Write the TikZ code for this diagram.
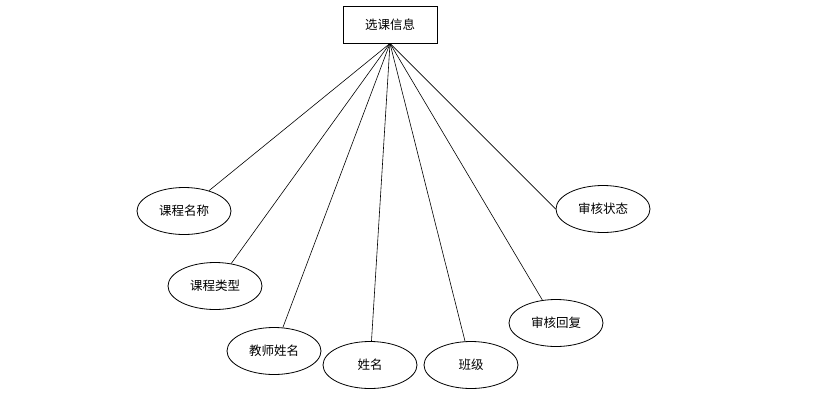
\documentclass[tikz,border=0pt]{standalone}
\usepackage{fontspec}
\usetikzlibrary{shapes.geometric}
\setmainfont{Noto Sans CJK SC}
\begin{document}
\begin{tikzpicture}[x=1pt,y=-1pt,
  attr/.style={draw,ellipse,line width=0.8pt,minimum width=94pt,minimum height=47pt,inner sep=0pt,font=\fontsize{12.5}{15}\selectfont},
  entity/.style={draw,rectangle,line width=0.8pt,minimum width=94pt,minimum height=37pt,inner sep=0pt,font=\fontsize{12.5}{15}\selectfont},
  link/.style={line width=0.6pt}]
\useasboundingbox[fill=white] (0,0) rectangle (815,400);
\node[entity] (main) at (390,24.5) {选课信息};
\coordinate (apex) at (main.south);
\node[attr] (a1) at (184,211) {课程名称};
\node[attr] (a2) at (215,286) {课程类型};
\node[attr] (a3) at (274,351) {教师姓名};
\node[attr] (a4) at (370,365) {姓名};
\node[attr] (a5) at (471,365) {班级};
\node[attr] (a6) at (556,323) {审核回复};
\node[attr] (a7) at (603,209) {审核状态};
\foreach \n in {a1,a2,a3,a4,a5,a6}
  \draw[link] (apex) -- (\n);
\draw[link] (apex) -- (a7.west);
\end{tikzpicture}
\end{document}
